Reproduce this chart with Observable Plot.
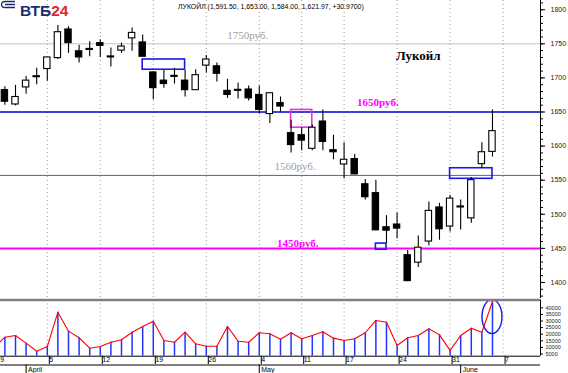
<!DOCTYPE html>
<html><head><meta charset="utf-8">
<script src="https://cdn.jsdelivr.net/npm/d3@7"></script>
<script src="https://cdn.jsdelivr.net/npm/@observablehq/plot@0.6"></script>
<style>
html,body{margin:0;padding:0;background:#fff;}
#wrap{position:relative;width:568px;height:373px;overflow:hidden;font-family:"Liberation Sans",Arial,sans-serif;background:#fff;}
#wrap svg{display:block;}
#logo{position:absolute;left:0;top:0;width:70px;height:20px;}
#logo .t{position:absolute;left:20px;top:3px;font:bold 15.5px/16px "Liberation Sans",Arial,sans-serif;white-space:nowrap;}
#logo .v{color:#1b2c6e;}
#logo .n{color:#e3242b;}
#head{position:absolute;left:178px;top:3px;font-size:6.9px;line-height:8px;white-space:nowrap;color:#000;}
</style></head><body>
<div id="wrap">
  <div id="charts"></div>
  <div id="logo">
    <svg width="17" height="11" style="position:absolute;left:0;top:0">
      <path d="M15,1.5 H5 Q1.5,1.5 1.5,4.5 Q1.5,7.5 5,7.5 H15 M5,4.5 H15" fill="none" stroke="#1b2c6e" stroke-width="1.3"/>
    </svg>
    <div class="t"><span class="v">ВТБ</span><span class="n">24</span></div>
  </div>
  <div id="head">ЛУКОЙЛ (1,591.50, 1,653.00, 1,584.00, 1,621.97, +30.9700)</div>
</div>
<script>
// ---------- data ----------
const dates = [
"2010-03-29","2010-03-30","2010-03-31","2010-04-01","2010-04-02",
"2010-04-05","2010-04-06","2010-04-07","2010-04-08","2010-04-09",
"2010-04-12","2010-04-13","2010-04-14","2010-04-15","2010-04-16",
"2010-04-19","2010-04-20","2010-04-21","2010-04-22","2010-04-23",
"2010-04-26","2010-04-27","2010-04-28","2010-04-29","2010-04-30",
"2010-05-04","2010-05-05","2010-05-06","2010-05-07",
"2010-05-11","2010-05-12","2010-05-13","2010-05-14",
"2010-05-17","2010-05-18","2010-05-19","2010-05-20","2010-05-21",
"2010-05-24","2010-05-25","2010-05-26","2010-05-27","2010-05-28",
"2010-05-31","2010-06-01","2010-06-02","2010-06-03","2010-06-04"];
const open = [1685,1682,1661,1686,1701,1713,1729,1771,1739,1741,
1751,1730,1740,1758,1752,1708,1696,1701.5,1696,1682,
1718,1717,1681,1681,1683,1675,1647,1663,1619,1616,
1596,1636,1594,1573,1581,1544,1531,1481,1485,1440,
1429,1460,1510,1482,1510,1494,1573.5,1591.5];
const high = [1692,1687,1689,1702,1714,1730,1777,1775,1748,1753,
1756,1744,1751,1773,1763,1709,1711,1714,1711,1712,
1733,1722,1698,1692,1688,1688,1678,1672,1638,1627,
1631,1653,1616,1605,1588,1551,1550,1498,1502,1447,
1468,1518,1516,1528,1521,1554,1605,1653];
const low = [1676,1660,1659,1676,1690,1695,1727,1736,1722,1731,
1730,1716,1736,1739,1731,1668,1685,1691,1672,1682,
1707,1694,1670,1669,1666,1647,1633,1650,1590,1593,
1593,1593,1580,1552,1558,1521,1476,1457,1464,1401,
1422,1454,1462,1474,1477,1487,1567,1584];
const close = [1682,1665,1672,1696,1702.5,1730,1767,1751,1730,1742.5,
1747,1731.5,1746,1766,1731,1685,1691,1703,1682,1704,
1727,1706,1675,1682.5,1670,1653,1677.5,1658,1601.5,1608,
1627,1606,1591,1580,1558.5,1525,1476.5,1476,1479,1402,
1451,1505,1478,1523,1511.5,1550,1591,1621.97];
const volume = [9800,17700,19000,13200,7100,10700,36700,22300,17300,9400,
10700,13900,15800,21500,25800,29800,15200,13900,21500,12700,
10900,10900,25800,14700,13900,21100,20300,16200,21100,16500,
19000,21800,17000,15200,16500,21100,30400,29100,11400,17300,
19000,24100,19500,7700,19000,24500,21500,44800];

const weekDates = ["2010-03-29","2010-04-05","2010-04-12","2010-04-19","2010-04-26","2010-05-04","2010-05-11","2010-05-17","2010-05-24","2010-05-31","2010-06-07"];
const weekLabels = ["29","5","12","19","26","4","11","17","24","31","7"];
const monthDates = ["2010-04-01","2010-05-04","2010-06-01"];
const monthLabels = ["April","May","June"];
const priceTicks = [1400,1450,1500,1550,1600,1650,1700,1750,1800];
const volumeTicks = [5000,10000,15000,20000,25000,30000,35000,40000];

const levelPrices = [1750,1650,1557,1450];
const levelLabels = ["1750руб.","1650руб.","1560руб.","1450руб."];
const levelLabelDates = ["2010-04-30","2010-05-20","2010-05-07","2010-05-11"];

const zoneStart = ["2010-04-16","2010-05-07","2010-05-20","2010-05-31"];
const zoneEnd   = ["2010-04-22","2010-05-12","2010-05-21","2010-06-04"];
const zoneHigh  = [1727,1653,1457,1567.5];
const zoneLow   = [1712,1627,1448,1552];

const noteText = ["Лукойл"];
const noteDate = ["2010-05-26"];
const notePrice = [1733];

const volumeMark = {date: "2010-06-04", volume: 32900};

// ---------- helpers ----------
const idx = d => { const k = dates.indexOf(d); return k >= 0 ? k : dates.length; };
const rows = dates.map((d, i) => ({i, date: d, open: open[i], high: high[i], low: low[i], close: close[i], volume: volume[i]}));
const weekIdx = weekDates.map(idx);
const weekLabelOf = new Map(weekIdx.map((v, k) => [v, weekLabels[k]]));
const monthIdx = monthDates.map(idx);
const xDomain = [0.585, 51.53];
const X = {domain: xDomain, axis: null};
const font = "Liberation Sans, Arial, sans-serif";
const serif = "Liberation Serif, Times New Roman, serif";
const W = 568, MR = 28;

// level styles
const levelStroke = ["#c4c4c4", "#0000d0", "#5a5ab8", "#ff00ff"];
const levelWidth = [1, 1.5, 1, 2];
const levelText = ["#a0a0a0", "#ff00ff", "#a0a0a0", "#ff00ff"];
const levelWeight = ["normal", "bold", "normal", "bold"];
const levelDy = [-8.5, -10, -8.5, -4.5];
const levelDx = [-1, 2, 4, -4];
const zoneStroke = ["#1a1ae6", "#e830e8", "#1a1ae6", "#1a1ae6"];

// ---------- price panel ----------
const price = Plot.plot({
  width: W, height: 298, marginTop: 0, marginBottom: 0, marginLeft: 0, marginRight: MR,
  x: X, y: {domain: [1376.5, 1813.5], axis: null},
  style: {fontFamily: font, fontSize: "7px", background: "white", overflow: "visible"},
  marks: [
    Plot.ruleX(weekIdx, {stroke: "#9a9a9a", strokeDasharray: "1,3"}),
    ...levelPrices.map((p, k) => Plot.ruleY([p], {stroke: levelStroke[k], strokeWidth: levelWidth[k]})),
    ...zoneStart.map((s, k) => Plot.rect([k], {
      x1: () => idx(s), x2: () => idx(zoneEnd[k]), y1: () => zoneLow[k], y2: () => zoneHigh[k],
      fill: "none", stroke: zoneStroke[k], strokeWidth: 1.6})),
    Plot.ruleX(rows, {x: "i", y1: "low", y2: "high", stroke: "black", strokeWidth: 1.1, clip: true}),
    Plot.rect(rows, {filter: d => d.close >= d.open, x1: d => d.i - 0.3, x2: d => d.i + 0.3, y1: "open", y2: "close", fill: "white", stroke: "black", strokeWidth: 1.1, clip: true}),
    Plot.rect(rows, {filter: d => d.close < d.open, x1: d => d.i - 0.3, x2: d => d.i + 0.3, y1: "open", y2: "close", fill: "black", stroke: "black", strokeWidth: 1.1, clip: true}),
    Plot.ruleX([xDomain[1]], {stroke: "black"}),
    Plot.axisY({anchor: "right", ticks: d3.range(1380, 1811, 10), tickSize: 2, tickFormat: () => "", label: null}),
    Plot.axisY({anchor: "right", ticks: priceTicks, tickSize: 4, tickPadding: 6, tickFormat: d3.format("d"), fontSize: 7, fill: "#222", label: null}),
    ...levelLabels.map((t, k) => Plot.text([t], {
      x: () => idx(levelLabelDates[k]), y: () => levelPrices[k], text: d => d,
      dx: levelDx[k], dy: levelDy[k], fill: levelText[k], fontWeight: levelWeight[k],
      fontFamily: serif, fontSize: 11, textAnchor: "middle"})),
    Plot.text(noteText, {x: (d, k) => idx(noteDate[k]), y: (d, k) => notePrice[k], text: d => d,
      fontFamily: serif, fontSize: 13, fontWeight: "bold", fill: "black", textAnchor: "middle"})
  ]
});

// ---------- volume panel ----------
const volDomain = [3330, 45900];
function volumeEllipse(index, scales) {
  const e = document.createElementNS("http://www.w3.org/2000/svg", "ellipse");
  e.setAttribute("cx", scales.x(idx(volumeMark.date)));
  e.setAttribute("cy", scales.y(volumeMark.volume));
  e.setAttribute("rx", 10);
  e.setAttribute("ry", 17);
  e.setAttribute("fill", "none");
  e.setAttribute("stroke", "#1a1ae6");
  e.setAttribute("stroke-width", 1.4);
  return e;
}
const vol = Plot.plot({
  width: W, height: 66, marginTop: 1.5, marginBottom: 8.3, marginLeft: 0, marginRight: MR,
  x: X, y: {domain: volDomain, axis: null},
  style: {fontFamily: font, fontSize: "7px", background: "white", overflow: "visible"},
  marks: [
    Plot.ruleX(weekIdx, {stroke: "#9a9a9a", strokeDasharray: "1,3"}),
    Plot.ruleX(rows, {x: "i", y1: volDomain[0], y2: "volume", stroke: "#2035ff", strokeWidth: 1.5, clip: true}),
    Plot.line(rows, {x: "i", y: "volume", stroke: "#ff0000", strokeWidth: 1.1, clip: true}),
    volumeEllipse,
    Plot.ruleY([volDomain[1]], {stroke: "#808080", strokeWidth: 2.5}),
    Plot.ruleY([volDomain[0]], {stroke: "black"}),
    Plot.ruleX([xDomain[1]], {stroke: "black"}),
    Plot.axisY({anchor: "right", ticks: volumeTicks, tickSize: 2, tickPadding: 3, tickFormat: d3.format("d"), fontSize: 5.5, fill: "#222", label: null}),
    Plot.axisX({anchor: "bottom", ticks: weekIdx, tickSize: 8.3, tickPadding: -7, tickFormat: v => weekLabelOf.get(v),
      textAnchor: "start", lineAnchor: "top", dx: 2, fontSize: 7, label: null})
  ]
});

// ---------- month strip ----------
const months = Plot.plot({
  width: W, height: 9, marginTop: 0.5, marginBottom: 0, marginLeft: 0, marginRight: MR,
  x: X, y: {domain: [0, 1], axis: null},
  style: {fontFamily: font, fontSize: "7px", background: "white", overflow: "visible"},
  marks: [
    Plot.ruleY([1], {stroke: "black"}),
    Plot.ruleX(monthIdx, {stroke: "black"}),
    Plot.text(monthIdx, {x: d => d, text: (d, k) => monthLabels[k], frameAnchor: "middle", textAnchor: "start", dx: 2, fontSize: 7})
  ]
});

const host = document.getElementById("charts");
host.append(price, vol, months);
</script>
</body></html>
